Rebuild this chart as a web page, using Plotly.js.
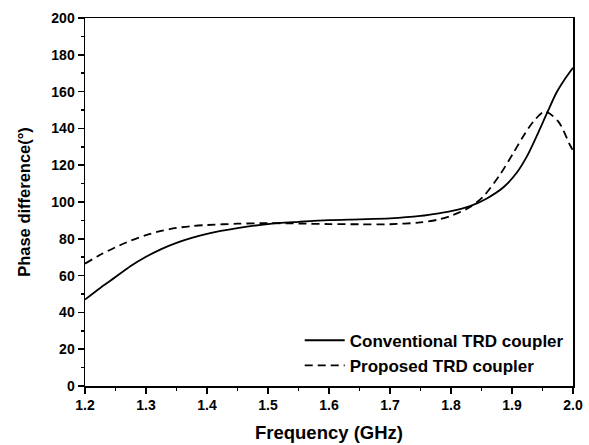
<!DOCTYPE html>
<html>
<head>
<meta charset="utf-8">
<script src="https://cdn.plot.ly/plotly-3.0.1.min.js"></script>
<style>html,body{margin:0;padding:0;background:#fff;}#chart{width:589px;height:445px;}</style>
</head>
<body>
<div id="chart"></div>
<script>
const convFreq = [1.20,1.225,1.25,1.275,1.30,1.325,1.35,1.375,1.40,1.45,1.50,1.55,1.60,1.65,1.70,1.75,1.78,1.80,1.83,1.858,1.886,1.908,1.924,1.94,1.957,1.973,1.987,2.00];
const convPhase = [47,53.3,59.2,65.2,70.2,74.4,77.8,80.5,82.7,85.8,88,89.2,90.2,90.6,91.1,92.4,93.8,95,97.6,101.8,108,116,124.5,135.5,148,159.5,167,173];
const propFreq = [1.20,1.225,1.25,1.275,1.30,1.325,1.35,1.375,1.40,1.45,1.50,1.55,1.60,1.65,1.70,1.75,1.78,1.80,1.83,1.853,1.88,1.902,1.918,1.935,1.954,1.976,1.995,2.00];
const propPhase = [66.5,71.3,75.4,79,82,84.3,85.9,86.9,87.5,88.2,88.5,88.3,88,87.9,87.9,88.9,90.5,92.5,97,103,114.7,126.5,135.5,143.7,149.2,143.7,131,128];
const names = ["Conventional TRD coupler","Proposed TRD coupler"];
const xTicks = [1.2,1.3,1.4,1.5,1.6,1.7,1.8,1.9,2.0];
const xTickText = ["1.2","1.3","1.4","1.5","1.6","1.7","1.8","1.9","2.0"];

const font = "Liberation Sans, Arial, sans-serif";
const traces = [
  {x: convFreq, y: convPhase, name: names[0], mode: "lines", line: {color: "#000", width: 1.8, shape: "spline", smoothing: 0.8}},
  {x: propFreq, y: propPhase, name: names[1], mode: "lines", line: {color: "#000", width: 1.8, shape: "spline", smoothing: 0.8, dash: "8px,5px"}}
];
const layout = {
  width: 589, height: 445,
  margin: {l: 85, r: 16, t: 18, b: 59},
  paper_bgcolor: "#fff", plot_bgcolor: "#fff",
  font: {family: font, color: "#000"},
  showlegend: true,
  legend: {x: 0.44, y: 0.172, xanchor: "left", yanchor: "top", bgcolor: "rgba(0,0,0,0)",
           font: {family: font, size: 17, weight: "bold"}, tracegroupgap: 0, itemwidth: 40},
  xaxis: {
    range: [1.2, 2.0], tickvals: xTicks, ticktext: xTickText,
    ticks: "outside", ticklen: 6, tickwidth: 1.5, tickcolor: "#000",
    minor: {dtick: 0.05, tick0: 1.2, ticks: "outside", ticklen: 3, tickwidth: 1.5, tickcolor: "#000"},
    showline: true, linewidth: 1.5, linecolor: "#000", mirror: true,
    showgrid: false, zeroline: false,
    tickfont: {family: font, size: 14, weight: "bold"},
    title: {text: "Frequency (GHz)", font: {family: font, size: 18.5, weight: "bold"}, standoff: 14}
  },
  yaxis: {
    range: [0, 200], dtick: 20, tick0: 0,
    ticks: "outside", ticklen: 6, tickwidth: 1.5, tickcolor: "#000",
    minor: {dtick: 10, ticks: "outside", ticklen: 3, tickwidth: 1.5, tickcolor: "#000"},
    showline: true, linewidth: 1.5, linecolor: "#000", mirror: true,
    showgrid: false, zeroline: false,
    tickfont: {family: font, size: 14, weight: "bold"},
    title: {text: "Phase difference(°)", font: {family: font, size: 16.5, weight: "bold"}, standoff: 16}
  }
};
Plotly.newPlot("chart", traces, layout, {displayModeBar: false, staticPlot: true});
</script>
</body>
</html>
